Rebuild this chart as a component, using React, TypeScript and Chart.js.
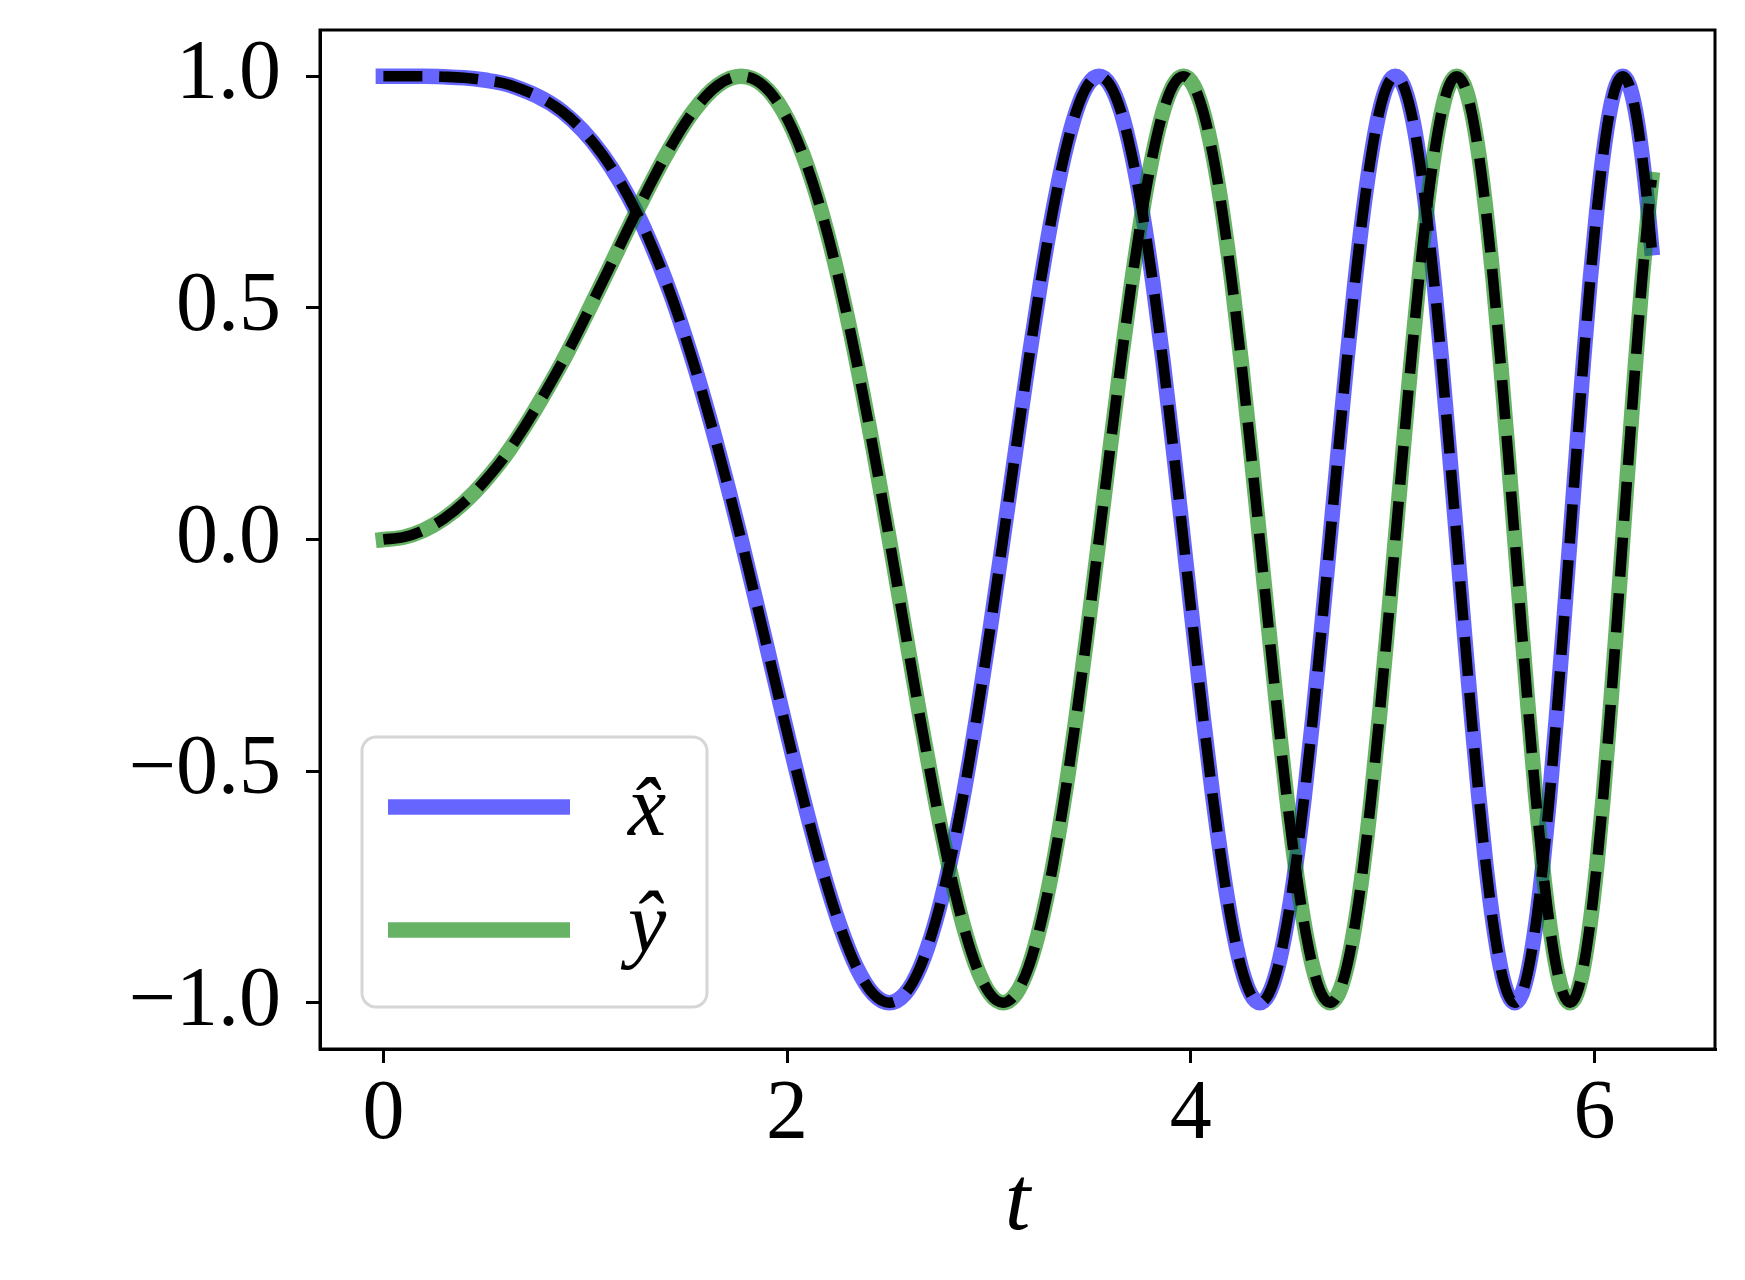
import React, { useEffect, useRef } from "react";
import { Chart, registerables } from "chart.js";

Chart.register(...registerables);

// time samples (t)
const tValues = [
  0, 0.1, 0.2, 0.3, 0.4, 0.5, 0.6267, 0.8862, 1.0854, 1.2533, 1.4012, 1.535, 1.658, 1.7725, 1.88, 1.9817, 2.0784,
  2.1708, 2.2594, 2.3447, 2.427, 2.5066, 2.5838, 2.6587, 2.7315, 2.8025, 2.8717, 2.9393, 3.0054,
  3.07, 3.1333, 3.1954, 3.2562, 3.316, 3.3747, 3.4324, 3.4891, 3.5449, 3.5999, 3.654, 3.7074,
  3.7599, 3.8118, 3.863, 3.9135, 3.9633, 4.0126, 4.0612, 4.1093, 4.1568, 4.2037, 4.2502, 4.2962,
  4.3416, 4.3866, 4.4311, 4.4752, 4.5189, 4.5621, 4.605, 4.6474, 4.6895, 4.7312, 4.7725, 4.8135,
  4.8541, 4.8944, 4.9343, 4.9739, 5.0133, 5.0523, 5.091, 5.1294, 5.1675, 5.2054, 5.243, 5.2803,
  5.3174, 5.3542, 5.3907, 5.427, 5.4631, 5.4989, 5.5345, 5.5699, 5.605, 5.6399, 5.6747, 5.7091,
  5.7434, 5.7775, 5.8114, 5.8451, 5.8786, 5.9119, 5.945, 5.9779, 6.0107, 6.0433, 6.0757, 6.1079,
  6.14, 6.1719, 6.2036, 6.2351, 6.2666, 6.2832,
];

// x-hat component
const xHatValues = [
  1, 1, 1, 0.999, 0.997, 0.992,
  0.981, 0.924, 0.831, 0.707, 0.556, 0.383, 0.195, 0, -0.195, -0.383, -0.556, -0.707, -0.831, -0.924, -0.981,
  -1, -0.981, -0.924, -0.831, -0.707, -0.556, -0.383, -0.195, 0, 0.195, 0.383, 0.556, 0.707, 0.831, 0.924, 0.981,
  1, 0.981, 0.924, 0.831, 0.707, 0.556, 0.383, 0.195, 0, -0.195, -0.383, -0.556, -0.707, -0.831, -0.924, -0.981,
  -1, -0.981, -0.924, -0.831, -0.707, -0.556, -0.383, -0.195, 0, 0.195, 0.383, 0.556, 0.707, 0.831, 0.924, 0.981,
  1, 0.981, 0.924, 0.831, 0.707, 0.556, 0.383, 0.195, 0, -0.195, -0.383, -0.556, -0.707, -0.831, -0.924, -0.981,
  -1, -0.981, -0.924, -0.831, -0.707, -0.556, -0.383, -0.195, 0, 0.195, 0.383, 0.556, 0.707, 0.831, 0.924, 0.981,
  1, 0.981, 0.924, 0.831, 0.707, 0.63,
];

// y-hat component
const yHatValues = [
  0, 0.005, 0.02, 0.045, 0.08, 0.125,
  0.195, 0.383, 0.556, 0.707, 0.831, 0.924, 0.981, 1, 0.981, 0.924, 0.831, 0.707, 0.556, 0.383, 0.195,
  0, -0.195, -0.383, -0.556, -0.707, -0.831, -0.924, -0.981, -1, -0.981, -0.924, -0.831, -0.707, -0.556, -0.383, -0.195,
  0, 0.195, 0.383, 0.556, 0.707, 0.831, 0.924, 0.981, 1, 0.981, 0.924, 0.831, 0.707, 0.556, 0.383, 0.195,
  0, -0.195, -0.383, -0.556, -0.707, -0.831, -0.924, -0.981, -1, -0.981, -0.924, -0.831, -0.707, -0.556, -0.383, -0.195,
  0, 0.195, 0.383, 0.556, 0.707, 0.831, 0.924, 0.981, 1, 0.981, 0.924, 0.831, 0.707, 0.556, 0.383, 0.195,
  0, -0.195, -0.383, -0.556, -0.707, -0.831, -0.924, -0.981, -1, -0.981, -0.924, -0.831, -0.707, -0.556, -0.383, -0.195,
  0, 0.195, 0.383, 0.556, 0.707, 0.777,
];

const seriesLabels = ["x\u0302", "y\u0302"];
const xTickValues = [0, 2, 4, 6];
const yTickValues = [-1, -0.5, 0, 0.5, 1];
const xAxisTitle = "t";

const FONT = "'Liberation Serif', 'Times New Roman', serif";
const BLUE = "rgba(0,0,255,0.6)";
const GREEN = "rgba(0,128,0,0.6)";
const SOLID_W = 15.5;
const DASH_W = 10.6;

const toPoints = (ys: number[]) => tValues.map((t, i) => ({ x: t, y: ys[i] }));

const frameAndLegend = {
  id: "frameAndLegend",
  afterDraw(chart: any) {
    const { ctx, chartArea } = chart;
    ctx.save();
    // full box frame
    ctx.strokeStyle = "#000";
    ctx.lineWidth = 3;
    ctx.strokeRect(chartArea.left, chartArea.top, chartArea.right - chartArea.left, chartArea.bottom - chartArea.top);

    // legend box
    const bx = 362, by = 737, bw = 345, bh = 270, r = 14;
    ctx.beginPath();
    ctx.moveTo(bx + r, by);
    ctx.lineTo(bx + bw - r, by);
    ctx.arcTo(bx + bw, by, bx + bw, by + r, r);
    ctx.lineTo(bx + bw, by + bh - r);
    ctx.arcTo(bx + bw, by + bh, bx + bw - r, by + bh, r);
    ctx.lineTo(bx + r, by + bh);
    ctx.arcTo(bx, by + bh, bx, by + bh - r, r);
    ctx.lineTo(bx, by + r);
    ctx.arcTo(bx, by, bx + r, by, r);
    ctx.closePath();
    ctx.fillStyle = "rgba(255,255,255,0.8)";
    ctx.fill();
    ctx.strokeStyle = "#d6d6d6";
    ctx.lineWidth = 3;
    ctx.stroke();

    const items = chart.data.datasets.filter((d: any) => d.showInLegend);
    const textOffsets = [28, 21];
    items.forEach((d: any, i: number) => {
      const y = 807 + i * 123;
      ctx.beginPath();
      ctx.strokeStyle = d.borderColor;
      ctx.lineWidth = d.borderWidth;
      ctx.lineCap = "butt";
      ctx.moveTo(388, y);
      ctx.lineTo(570, y);
      ctx.stroke();
      ctx.fillStyle = "#000";
      ctx.font = `italic 86px ${FONT}`;
      ctx.textBaseline = "alphabetic";
      ctx.textAlign = "left";
      ctx.fillText(d.label, 628, y + textOffsets[i]);
    });
    ctx.restore();
  },
};

export default function App() {
  const ref = useRef<HTMLCanvasElement | null>(null);

  useEffect(() => {
    if (!ref.current) return;
    const chart = new Chart(ref.current, {
      type: "line",
      data: {
        datasets: [
          {
            label: seriesLabels[0],
            data: toPoints(xHatValues),
            borderColor: BLUE,
            borderWidth: SOLID_W,
            borderCapStyle: "square",
            borderJoinStyle: "round",
            pointRadius: 0,
            cubicInterpolationMode: "monotone",
            order: 4,
            showInLegend: true,
          } as any,
          {
            label: seriesLabels[1],
            data: toPoints(yHatValues),
            borderColor: GREEN,
            borderWidth: SOLID_W,
            borderCapStyle: "square",
            borderJoinStyle: "round",
            pointRadius: 0,
            cubicInterpolationMode: "monotone",
            order: 3,
            showInLegend: true,
          } as any,
          {
            label: "x exact",
            data: toPoints(xHatValues),
            borderColor: "#000",
            borderWidth: DASH_W,
            borderDash: [39, 16.8],
            borderCapStyle: "butt",
            pointRadius: 0,
            cubicInterpolationMode: "monotone",
            order: 2,
          } as any,
          {
            label: "y exact",
            data: toPoints(yHatValues),
            borderColor: "#000",
            borderWidth: DASH_W,
            borderDash: [39, 16.8],
            borderCapStyle: "butt",
            pointRadius: 0,
            cubicInterpolationMode: "monotone",
            order: 1,
          } as any,
        ],
      },
      options: {
        animation: false,
        responsive: false,
        maintainAspectRatio: false,
        layout: { padding: { top: 30, right: 30, left: 0, bottom: 0 } },
        plugins: { legend: { display: false }, tooltip: { enabled: false } },
        scales: {
          x: {
            type: "linear",
            min: -0.314,
            max: 6.597,
            afterBuildTicks: (s: any) => {
              s.ticks = xTickValues.map((v) => ({ value: v }));
            },
            afterFit: (s: any) => {
              s.height = 231;
              s.paddingLeft = 0;
              s.paddingRight = 0;
            },
            ticks: {
              callback: (v: any) => String(v),
              font: { family: FONT, size: 84 },
              color: "#000",
              padding: 3,
              maxRotation: 0,
              autoSkip: false,
            },
            grid: {
              drawOnChartArea: false,
              drawTicks: true,
              tickLength: 14,
              tickWidth: 3,
              tickColor: "#000",
              lineWidth: 3,
            },
            border: { display: true, color: "#000", width: 3 },
            title: {
              display: true,
              text: xAxisTitle,
              color: "#000",
              font: { family: FONT, size: 92, style: "italic" },
              padding: { top: 0, bottom: 20 },
            },
          },
          y: {
            type: "linear",
            min: -1.1,
            max: 1.1,
            afterBuildTicks: (s: any) => {
              s.ticks = yTickValues.map((v) => ({ value: v }));
            },
            afterFit: (s: any) => {
              s.width = 320;
              s.paddingTop = 0;
              s.paddingBottom = 0;
            },
            ticks: {
              callback: (v: any) => (v < 0 ? "\u2212" : "") + Math.abs(Number(v)).toFixed(1),
              font: { family: FONT, size: 84 },
              color: "#000",
              padding: 25,
              autoSkip: false,
            },
            grid: {
              drawOnChartArea: false,
              drawTicks: true,
              tickLength: 14,
              tickWidth: 3,
              tickColor: "#000",
              lineWidth: 3,
            },
            border: { display: true, color: "#000", width: 3 },
          },
        },
      },
      plugins: [frameAndLegend],
    } as any);
    return () => chart.destroy();
  }, []);

  return (
    <div style={{ position: "absolute", left: 0, top: 0, width: 1745, height: 1280, background: "#fff" }}>
      <canvas ref={ref} width={1745} height={1280} style={{ display: "block" }} />
    </div>
  );
}
